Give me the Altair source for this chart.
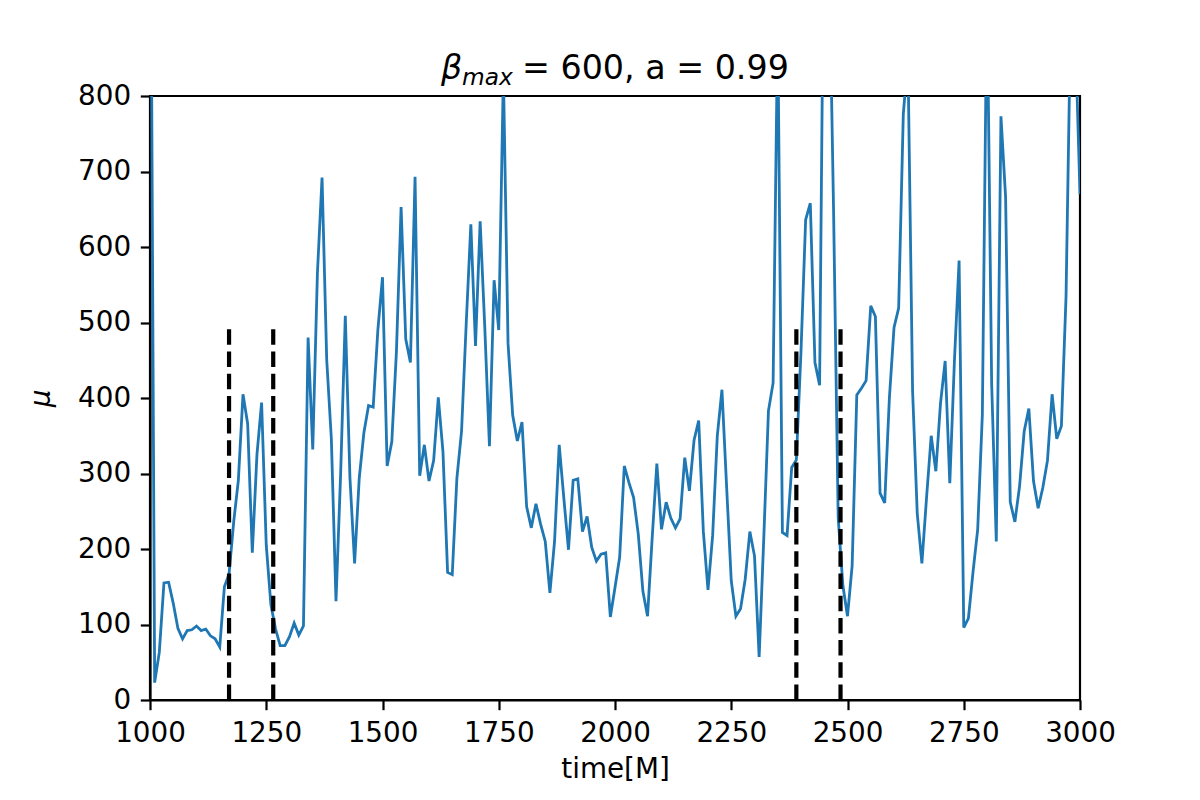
import altair as alt
import pandas as pd

# sample times (every 10 M from 1000 to 3000)
times = list(range(1000, 3001, 10))

# mu values (one row per 100 M)
mu = [
    1250, 23, 63, 155, 156, 128, 95, 81, 92, 93,
    98, 92, 94, 85, 81, 70, 150, 167, 236, 291,
    405, 366, 195, 325, 394, 205, 126, 94, 72, 72,
    84, 102, 86, 98, 480, 332, 565, 692, 451, 346,
    131, 300, 509, 294, 181, 294, 354, 390, 388, 490,
    560, 310, 342, 462, 653, 478, 447, 693, 297, 338,
    290, 317, 401, 329, 169, 166, 294, 356, 498, 630,
    469, 634, 493, 336, 556, 490, 830, 472, 377, 343,
    368, 256, 228, 260, 233, 210, 142, 210, 338, 267,
    199, 291, 293, 223, 243, 202, 184, 193, 195, 110,
    149, 189, 310, 288, 268, 220, 144, 111, 215, 313,
    226, 262, 241, 228, 240, 321, 277, 344, 370, 223,
    146, 218, 350, 411, 283, 158, 111, 121, 160, 223,
    191, 57, 215, 383, 420, 900, 222, 218, 308, 318,
    462, 636, 658, 447, 417, 1100, 1000, 650, 241, 152,
    111, 178, 404, 413, 423, 522, 508, 274, 261, 399,
    493, 519, 776, 850, 409, 247, 181, 268, 350, 303,
    393, 449, 287, 450, 582, 96, 108, 170, 226, 378,
    950, 420, 210, 773, 666, 262, 236, 283, 356, 386,
    290, 254, 281, 317, 405, 346, 363, 535, 910, 880,
    670,
]

# dashed marker lines
vline_x = [1170, 1265, 2390, 2485]
vline_top = [500, 500, 500, 500]

x_ticks = [1000, 1250, 1500, 1750, 2000, 2250, 2500, 2750, 3000]
y_ticks = [0, 100, 200, 300, 400, 500, 600, 700, 800]

n = min(len(times), len(mu))
df = pd.DataFrame({"time": times[:n], "mu": mu[:n]})
vdf = pd.DataFrame({"x": vline_x, "y0": [0] * len(vline_x), "y1": vline_top})

FONT = "DejaVu Sans"
TICK_FS = 27.8
TITLE_FS = 33.3

xscale = alt.Scale(domain=[1000, 3000], nice=False, zero=False)
yscale = alt.Scale(domain=[0, 800], nice=False, zero=True)

line = alt.Chart(df).mark_line(color="#1f77b4", strokeWidth=2.8, clip=True).encode(
    x=alt.X("time:Q", scale=xscale,
            axis=alt.Axis(title="time[M]", values=x_ticks, format="d",
                          titlePadding=8)),
    y=alt.Y("mu:Q", scale=yscale,
            axis=alt.Axis(title="μ", values=y_ticks, format="d",
                          titleFontStyle="italic", titlePadding=22)),
)

rules = alt.Chart(vdf).mark_rule(color="black", strokeWidth=4.2,
                                 strokeDash=[15.5, 6.7]).encode(
    x="x:Q",
    y="y0:Q",
    y2="y1:Q",
)

one = pd.DataFrame({"k": [0]})
t_beta = alt.Chart(one).mark_text(text="β", font=FONT, fontSize=TITLE_FS,
                                  fontStyle="italic", align="left",
                                  baseline="alphabetic", color="black").encode(
    x=alt.value(291), y=alt.value(-17))
t_max = alt.Chart(one).mark_text(text="max", font=FONT, fontSize=23.3,
                                 fontStyle="italic", align="left",
                                 baseline="alphabetic", color="black").encode(
    x=alt.value(312), y=alt.value(-11))
t_rest = alt.Chart(one).mark_text(text="= 600, a = 0.99", font=FONT,
                                  fontSize=TITLE_FS, align="left",
                                  baseline="alphabetic", color="black").encode(
    x=alt.value(372), y=alt.value(-17))

chart = alt.layer(line, rules, t_beta, t_max, t_rest).properties(
    width=930,
    height=604,
    padding={"left": 142, "top": 88, "right": 112, "bottom": 92},
    autosize=alt.AutoSizeParams(type="none"),
    background="white",
).configure_view(
    stroke="black", strokeWidth=2.2
).configure_axis(
    grid=False,
    domainColor="black",
    domainWidth=2.2,
    tickColor="black",
    tickWidth=2.2,
    tickSize=9.7,
    labelPadding=9.7,
    labelFont=FONT,
    labelFontSize=TICK_FS,
    labelColor="black",
    labelFlush=False,
    labelOverlap=False,
    titleFont=FONT,
    titleFontSize=TICK_FS,
    titleFontWeight="normal",
    titleColor="black",
)

chart.save("out.html", embed_options={"renderer": "svg", "actions": False})
